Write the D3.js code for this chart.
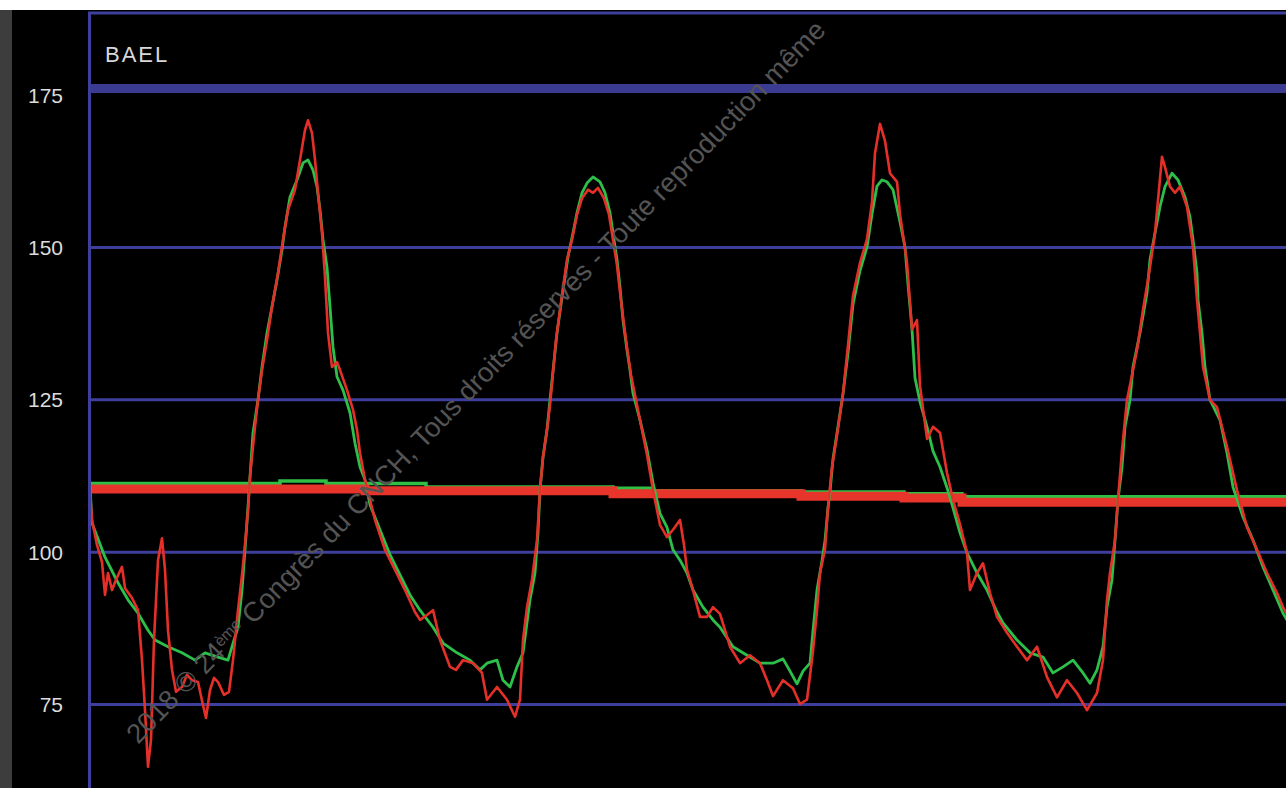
<!DOCTYPE html>
<html>
<head>
<meta charset="utf-8">
<script src="https://cdn.jsdelivr.net/npm/d3@7"></script>
<style>
  html, body { margin: 0; padding: 0; background: #fff; }
  svg { display: block; }
</style>
</head>
<body>
<svg id="chart" width="1286" height="788"></svg>
<script>
// ---- data ----
const title = "BAEL";
const yTicks = [75, 100, 125, 150, 175];
const gridValues = [75, 100, 125, 150];
const timeDomain = [0, 300];
const valueDomain = [75, 150];
const watermarkParts = ["2018 © 24", "ème", " Congrès du CNCH, Tous droits réservés - Toute reproduction même"];

// green trace [sample, value]
const greenTrace = [
[0,110.9],[0.5,104.7],[3.75,99.1],[7,94.9],[9.5,92.1],[12,89.9],[14.5,87.1],[16.25,85.5],[19.5,84.4],[23,83.4],
[26.25,82.2],[28.75,83.4],[32,82.7],[34.5,82.2],[35.5,84.4],[37,87.6],[38,93.7],[38.75,100.3],[39.5,107.3],[40,112.3],
[40.75,119.5],[42,124.9],[43,130.3],[44.25,135.9],[45.5,140.2],[46.75,144.6],[48,149.5],[48.75,153.3],[50,158.2],[51.75,161.0],
[53.25,163.8],[54.5,164.3],[55.75,162.6],[56.75,159.9],[57.5,156.1],[58.25,151.2],[59.25,146.7],[60,140.2],[60.75,133.6],[61.75,128.7],
[63.25,126.5],[65,122.8],[66.25,117.8],[67.5,113.9],[68.75,111.8],[70,107.7],[72.5,103.6],[75,99.5],[77.5,96.2],[80,92.9],
[82.5,90.4],[85.75,87.6],[88.25,85.0],[91.75,83.4],[95,82.2],[97.5,80.6],[99.25,81.7],[101.75,82.2],[103.25,78.9],[105,77.8],
[106.75,81.1],[108.25,83.4],[110,92.1],[111.25,96.5],[112,103.1],[112.5,110.1],[113.25,115.5],[114.25,120.0],[115,124.9],[116.75,135.9],
[118.25,142.9],[119.5,148.4],[120.75,152.3],[121.75,155.6],[123,158.9],[124.25,160.5],[125.75,161.5],[127.5,160.7],[128.75,158.9],[130,155.6],
[130.75,152.3],[131.75,147.9],[132.5,143.4],[133.25,138.0],[134.25,133.1],[135,129.8],[135.75,126.0],[137.5,121.6],[139.25,116.7],[140.75,111.3],
[142.5,106.3],[144.25,104.0],[145.75,100.3],[147.5,98.6],[149.25,96.5],[150.75,93.7],[153.25,90.9],[155.75,88.8],[157.5,87.6],[160.75,84.4],
[164.25,83.0],[167.5,81.7],[170.75,81.7],[173.25,82.4],[175,80.4],[176.75,78.3],[178.25,80.4],[180,81.7],[180.75,87.0],[181.75,93.7],
[183,98.5],[183.75,101.8],[184.5,107.2],[185,109.8],[185.75,115.2],[187,120.5],[188.25,125.9],[189.5,132.6],[190.75,140.6],[192.5,146.1],
[194.25,150.0],[195.5,155.4],[196.75,160.0],[198,161.0],[199.25,160.7],[200.75,159.4],[202.5,154.1],[203.75,150.0],[204.5,143.9],[205.5,136.5],
[206.25,128.5],[207.5,124.6],[209.25,120.5],[210.75,116.5],[212.5,113.9],[214.25,110.5],[215.75,107.2],[217.5,103.1],[219.25,99.8],[221.75,96.5],
[224.25,93.7],[226.75,90.1],[228.25,88.3],[231.75,85.5],[235,83.4],[238.25,82.7],[240.75,80.1],[243.25,81.1],[245.75,82.2],[248.25,80.1],
[250,78.4],[251.75,80.6],[253.25,84.4],[254.25,90.9],[255.5,95.4],[256.25,101.9],[257,108.5],[258,113.9],[258.75,120.5],[260,124.9],
[260.75,130.3],[262.5,135.9],[264.25,142.5],[265,147.9],[266.25,152.3],[267.5,156.6],[268.75,159.9],[270.5,162.1],[272,161.0],[273.75,158.2],
[275,154.9],[275.75,151.2],[276.75,145.7],[277,141.3],[278,135.9],[278.75,130.3],[280,124.9],[282.5,121.6],[284.25,116.2],[285.75,110.6],
[288.25,105.7],[290.75,101.9],[293.25,97.5],[295.75,93.7],[298.25,89.9],[300,88.0]
];

// red trace [sample, value]
const redTrace = [
[0,110.1],[0.5,105.2],[1.75,101.1],[3,98.3],[3.75,92.9],[4.5,96.5],[5.5,93.7],[6.5,95.4],[8,97.5],[8.75,94.0],
[10.5,92.4],[12,90.4],[13,82.2],[13.75,74.0],[14.5,64.7],[15.25,69.1],[16,85.5],[17,98.6],[18,102.2],[18.75,97.0],
[19.5,87.1],[20.5,80.6],[21.5,77.0],[23,77.8],[24.25,79.8],[25.5,78.9],[27,78.6],[28.25,74.8],[29,72.7],[30,77.3],
[31,79.3],[32,78.6],[33.5,76.5],[34.75,77.0],[35.75,82.2],[37,90.4],[38,96.2],[38.75,101.1],[39.5,106.8],[40,112.3],
[41.25,120.5],[42,124.9],[43,129.8],[44.25,134.7],[45.5,140.2],[47,145.7],[48.25,151.2],[49.5,156.1],[51.25,159.4],[52.5,164.3],
[53.75,169.2],[54.5,170.8],[55.5,168.7],[56.25,164.3],[57,158.9],[58,152.3],[58.75,145.1],[59.5,135.9],[60.5,130.3],[61.75,131.1],
[62.5,129.8],[64.25,126.5],[65.75,123.3],[66.75,120.0],[67.5,116.2],[68.75,111.8],[70,108.5],[71.25,105.2],[73.75,100.3],[76.25,97.0],
[78.75,93.7],[81.25,90.1],[82.5,88.8],[84.25,89.6],[85.75,90.4],[87.5,85.5],[90,81.1],[91.5,80.6],[93.25,82.2],[95.75,81.7],
[98,80.1],[99.25,75.7],[101.75,77.8],[104.25,75.7],[106.25,72.9],[107.5,75.7],[108.25,85.5],[109.25,90.9],[110.5,95.4],[111.75,101.9],
[112.5,110.1],[113.25,115.5],[114.25,120.0],[115,124.1],[116.5,134.7],[118,142.1],[119.25,147.9],[120.5,151.2],[121.75,155.3],[123,158.0],
[124.5,159.4],[125.75,158.9],[127,159.7],[128.5,158.0],[129.75,155.3],[130.75,151.2],[131.75,147.0],[132.5,142.6],[133.5,137.2],[134.5,132.3],
[135.25,129.0],[136.25,125.7],[137.75,120.8],[139.25,115.9],[140.75,110.1],[142.5,104.4],[144.25,102.4],[145.75,103.6],[147.5,105.2],[148.5,101.1],
[149.25,97.0],[150.75,93.7],[152.5,89.3],[154.25,89.3],[155.75,90.9],[157.5,89.8],[160,84.4],[162.5,81.7],[165,83.0],[167.5,81.7],
[169.25,78.9],[170.75,76.3],[173.25,78.9],[175.75,77.6],[177.5,75.0],[179.25,75.7],[180.75,83.7],[181.75,90.4],[182.5,96.5],[183.75,100.4],
[184.5,107.2],[185.5,113.9],[186.75,119.1],[188.25,125.9],[189.5,133.9],[190.75,142.0],[192.5,147.4],[194.25,151.3],[195.5,157.4],[196.25,165.4],
[197.5,170.2],[198.75,167.4],[200,162.1],[201.75,160.7],[202.5,155.4],[204.25,147.4],[205.5,136.5],[206.75,138.0],[207.5,127.2],[209.25,118.5],
[210.75,120.5],[212.5,119.5],[214.25,112.9],[215.75,108.5],[217.5,104.5],[219.25,99.8],[220,93.7],[221.75,96.5],[223.25,98.1],[225,93.2],
[226.75,89.3],[229.25,86.7],[231.75,84.4],[234.25,82.2],[236.75,84.4],[239.25,79.4],[241.75,76.1],[244.25,78.9],[246.75,76.8],[249.25,74.0],
[251.75,76.8],[253.25,82.2],[254.25,92.1],[255,96.5],[256.25,101.9],[257,108.5],[258,116.7],[259.25,124.9],[261.75,133.1],[263.25,139.7],
[265,146.7],[266.25,152.3],[267,157.7],[268,164.8],[268.75,163.1],[270,159.9],[271.25,158.9],[272.5,159.9],[274.25,156.6],[275.75,150.0],
[276.75,141.3],[277.5,135.9],[278.25,130.3],[280,124.9],[281.75,123.7],[284.25,117.2],[286.75,110.1],[289.25,104.0],[291.75,100.3],[294.25,96.5],
[296.75,93.2],[298.25,90.9],[300,88.8]
];

// running means (step after) [sample, value]
const greenMean = [[0,111.2],[47.5,111.6],[59,111.2],[68.75,111.2],[84,110.6],[130.75,110.4],[140.5,110.0],[177.75,109.8],[203.5,109.5],[218,109.0],[300,109.0]];
const redMean = [[0,110.3],[68.75,110.0],[130.75,109.5],[177.75,109.1],[203.5,108.8],[218,108.1],[300,108.1]];

// ---- drawing ----
const W = 1286, H = 788;
const plotLeft = 90, plotRight = 1290;
const svg = d3.select("#chart");

const x = d3.scaleLinear().domain(timeDomain).range([plotLeft, plotRight]);
const y = d3.scaleLinear().domain(valueDomain).range([704, 247]);

const blue = "#3e3e9c";

svg.append("rect").attr("width", W).attr("height", H).attr("fill", "#fff");
svg.append("rect").attr("x", 0).attr("y", 10).attr("width", 12).attr("height", H - 10).attr("fill", "#3d3d3d");
svg.append("rect").attr("x", 12).attr("y", 10).attr("width", W - 12).attr("height", H - 10).attr("fill", "#000");

// frame / header box
svg.append("line").attr("x1", 88).attr("x2", W).attr("y1", 13).attr("y2", 13)
  .attr("stroke", blue).attr("stroke-width", 3);
svg.append("rect").attr("x", 88).attr("y", 84).attr("width", W - 88).attr("height", 9).attr("fill", "#3b3b92");
svg.append("line").attr("x1", 89.5).attr("x2", 89.5).attr("y1", 12).attr("y2", H)
  .attr("stroke", blue).attr("stroke-width", 3);

svg.append("text").attr("x", 105).attr("y", 62).text(title)
  .attr("font-family", "Liberation Sans, Arial, sans-serif").attr("font-size", 22)
  .attr("letter-spacing", 2).attr("fill", "#d8d8d8");

// gridlines
const grid = svg.append("g").attr("transform", `translate(${plotLeft},0)`)
  .call(d3.axisRight(y).tickValues(gridValues).tickSize(W - plotLeft).tickFormat(""));
grid.select(".domain").remove();
grid.selectAll(".tick line").attr("stroke", blue).attr("stroke-width", 3);

// y labels
const yAxis = svg.append("g").attr("transform", "translate(66,0)")
  .call(d3.axisLeft(y).tickValues(yTicks).tickSize(0).tickPadding(3));
yAxis.select(".domain").remove();
yAxis.selectAll(".tick text")
  .attr("font-family", "Liberation Sans, Arial, sans-serif").attr("font-size", 21)
  .attr("fill", "#dcdcdc").attr("dy", "0.36em");

// clip
svg.append("clipPath").attr("id", "plotclip").append("rect")
  .attr("x", 91).attr("y", 93).attr("width", W - 91).attr("height", H - 93);
const plot = svg.append("g").attr("clip-path", "url(#plotclip)");

const stepLine = d3.line().x(d => x(d[0])).y(d => y(d[1])).curve(d3.curveStepAfter);
const trace = d3.line().x(d => x(d[0])).y(d => y(d[1]));

plot.append("path").datum(greenMean).attr("d", stepLine)
  .attr("fill", "none").attr("stroke", "#2fbf45").attr("stroke-width", 3.5);
plot.append("path").datum(redMean).attr("d", stepLine)
  .attr("fill", "none").attr("stroke", "#e8352b").attr("stroke-width", 9);

plot.append("path").datum(greenTrace).attr("d", trace)
  .attr("fill", "none").attr("stroke", "#2cc04a").attr("stroke-width", 2.8).attr("stroke-linejoin", "round");
plot.append("path").datum(redTrace).attr("d", trace)
  .attr("fill", "none").attr("stroke", "#e5302a").attr("stroke-width", 2.6).attr("stroke-linejoin", "round");

// watermark
const wm = svg.append("text")
  .attr("transform", "translate(138,745) rotate(-46)")
  .attr("font-family", "Liberation Sans, Arial, sans-serif").attr("font-size", 27.5)
  .attr("fill", "#545454");
wm.append("tspan").text(watermarkParts[0]);
wm.append("tspan").text(watermarkParts[1]).attr("font-size", 16).attr("baseline-shift", "super");
wm.append("tspan").text(watermarkParts[2]);
</script>
</body>
</html>
